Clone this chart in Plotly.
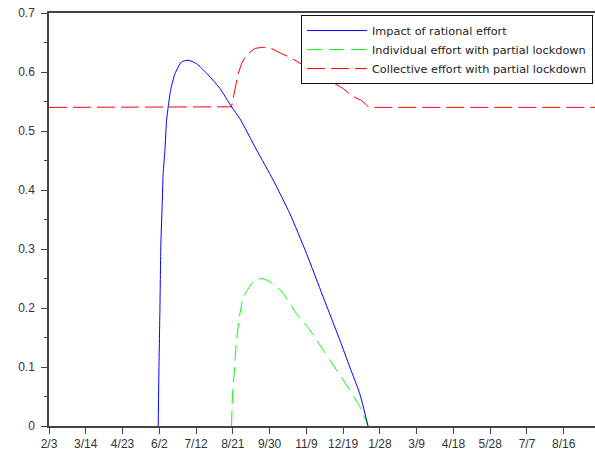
import plotly.graph_objects as go

# Days since 2/3 and the three effort curves
blue_days = [118.8, 119.6, 120.7, 121.7, 123.2, 124.2, 126.1, 127.9, 129.7, 132.3,
             137.0, 144.2, 151.4, 160.5, 173.2, 186.0, 198.6, 207.6, 225.8, 243.8,
             262.0, 280.1, 298.2, 316.3, 327.2, 338.0, 347.1]
blue_vals = [0.0, 0.095, 0.202, 0.309, 0.377, 0.428, 0.467, 0.518, 0.541, 0.569,
             0.597, 0.617, 0.620, 0.614, 0.595, 0.572, 0.541, 0.521, 0.468, 0.417,
             0.360, 0.2925, 0.219, 0.146, 0.100, 0.055, 0.0]

green_days = [198.6, 199.7, 201.4, 204.1, 207.7, 211.0, 214.9, 222.0, 231.0, 240.0,
              254.7, 269.0, 283.7, 298.2, 312.7, 327.2, 338.0, 347.1]
green_vals = [0.0, 0.055, 0.089, 0.146, 0.19, 0.215, 0.228, 0.244, 0.250, 0.245,
              0.225, 0.191, 0.163, 0.129, 0.095, 0.061, 0.033, 0.0]

red_days = [0, 198.6, 200.4, 202.2, 204.0, 205.8, 209.5, 213.0, 216.7, 223.9, 233.0,
            242.0, 253.0, 262.0, 320.0, 328.6, 334.0, 339.6, 344.0, 348.1, 594]
red_vals = [0.54, 0.541, 0.556, 0.569, 0.584, 0.597, 0.614, 0.624, 0.631, 0.640, 0.642,
            0.640, 0.631, 0.625, 0.572, 0.561, 0.556, 0.552, 0.546, 0.54, 0.54]

tick_days = [0, 40, 80, 120, 160, 200, 240, 280, 320, 360, 400, 440, 480, 520, 560]
tick_labels = ["2/3", "3/14", "4/23", "6/2", "7/12", "8/21", "9/30", "11/9",
               "12/19", "1/28", "3/9", "4/18", "5/28", "7/7", "8/16"]

fig = go.Figure()
fig.add_trace(go.Scatter(x=red_days, y=red_vals, mode="lines",
                         name="Collective effort with partial lockdown",
                         line=dict(color="#ff0000", width=1, dash="18px,6px")))
fig.add_trace(go.Scatter(x=green_days, y=green_vals, mode="lines",
                         name="Individual effort with partial lockdown",
                         line=dict(color="#00ff00", width=1, dash="15px,7px",
                                   shape="spline", smoothing=0.6)))
fig.add_trace(go.Scatter(x=blue_days, y=blue_vals, mode="lines",
                         name="Impact of rational effort",
                         line=dict(color="#0000ff", width=1,
                                   shape="spline", smoothing=0.6)))

axis_font = dict(family="Liberation Sans, Arial, sans-serif", size=12, color="#333333")

fig.update_layout(
    width=595, height=455,
    margin=dict(l=49, r=0, t=13, b=29),
    paper_bgcolor="white", plot_bgcolor="white",
    showlegend=True,
    legend=dict(
        x=0.9963, y=0.995, xanchor="right", yanchor="top",
        bgcolor="white", bordercolor="#111111", borderwidth=1,
        font=dict(family="DejaVu Sans, sans-serif", size=11.3, color="#222222"),
        traceorder="reversed", itemwidth=60,
    ),
    xaxis=dict(
        range=[0, 594], tickmode="array", tickvals=tick_days, ticktext=tick_labels,
        showgrid=False, zeroline=False, showline=True, linecolor="#444444",
        linewidth=1.5, mirror=True, ticks="outside", ticklen=6, tickcolor="#444444",
        tickfont=axis_font,
    ),
    yaxis=dict(
        range=[0, 0.7], dtick=0.1, showgrid=False, zeroline=False, showline=True,
        linecolor="#444444", linewidth=1.5, ticks="outside", ticklen=6,
        tickcolor="#444444", tickfont=axis_font, ticklabelstandoff=4,
        minor=dict(ticks="outside", ticklen=3, dtick=0.05, tickcolor="#444444"),
    ),
)

fig.write_html("out.html")
